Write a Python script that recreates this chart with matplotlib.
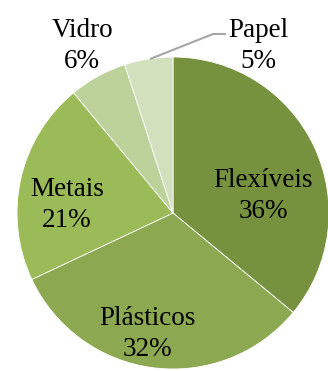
import numpy as np
import matplotlib.pyplot as plt

# dados
categorias = ['Flexíveis', 'Plásticos', 'Metais', 'Vidro', 'Papel']
percentuais = [36, 32, 21, 6, 5]
cores = ['#77923F', '#8CA851', '#9BBB59', '#BDD19B', '#D3E0BE']

# posições dos rótulos (em pixels relativos ao centro, y para cima)
rotulos_pos = [(90, 17), (-26, -121), (-106, 8), (-91, 167), (85, 167)]

W, H = 328, 371
cx, cy, R = 173, H - 213, 156

fig = plt.figure(figsize=(W / 100, H / 100), dpi=100)
ax = fig.add_axes([0, 0, 1, 1])
ax.set_xlim(0, W)
ax.set_ylim(0, H)
ax.set_aspect('equal')
ax.axis('off')

ax.pie(percentuais, colors=cores, startangle=90, counterclock=False,
       center=(cx, cy), radius=R,
       wedgeprops=dict(edgecolor='white', linewidth=0.6))
ax.set_xlim(0, W)
ax.set_ylim(0, H)

for cat, p, (dx, dy) in zip(categorias, percentuais, rotulos_pos):
    ax.text(cx + dx, cy + dy, f'{cat}\n{p}%', ha='center', va='center',
            fontsize=19.5, family='Liberation Serif', linespacing=1.28)

# linha guia do Papel
ax.plot([150, 213, 226], [H - 59, H - 34, H - 34], color='#A6A6A6', lw=1.5,
        solid_capstyle='butt')

fig.savefig('out.png', dpi=100)
